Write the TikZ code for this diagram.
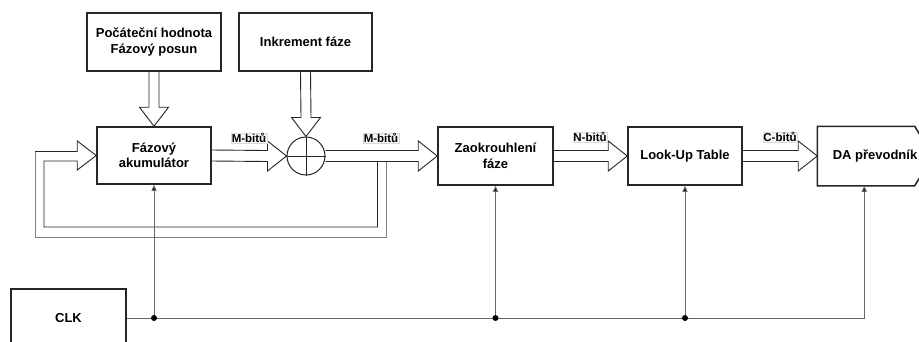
\documentclass[tikz,border=0pt]{standalone}
\usepackage{fontspec}
\setmainfont{Liberation Sans}
\usetikzlibrary{calc,arrows.meta}
\newcommand\harr[2]{%
  \draw[fatarr] ($(#1)+(0,-5.5)$) -- ($(#2)+(-19,-5.5)$) -- ($(#2)+(-19,-15)$) -- (#2)
    -- ($(#2)+(-19,15)$) -- ($(#2)+(-19,5.5)$) -- ($(#1)+(0,5.5)$);}
\newcommand\varr[2]{%
  \draw[fatarr] ($(#1)+(-5,0)$) -- ($(#2)+(-5,-19)$) -- ($(#2)+(-14.5,-19)$) -- (#2)
    -- ($(#2)+(14.5,-19)$) -- ($(#2)+(5,-19)$) -- ($(#1)+(5,0)$);}
\begin{document}
\begin{tikzpicture}[x=1pt,y=-1pt,
  blk/.style={draw=black!85,line width=1.5pt,align=center,inner sep=0pt,
    font=\fontsize{13}{15.5}\selectfont\bfseries},
  blkline/.style={draw=black!85,line width=1.5pt},
  fatarr/.style={draw=black!85,line width=0.9pt,line join=miter},
  fatgray/.style={draw=black!50,line width=1pt},
  clkline/.style={draw=black!60,line width=1pt},
  clkarr/.style={clkline,-{Triangle[length=6pt,width=5pt,fill=black]}},
  lbl/.style={draw=black!15,fill=black!3,inner sep=0.6pt,
    font=\fontsize{11.5}{13}\selectfont\bfseries}]
\clip (0,0) rectangle (919,341);
\fill[white] (0,0) rectangle (919,341);

% blocks
\node[blk,minimum width=134,minimum height=58] (init) at (154,42) {Počáteční hodnota\\Fázový posun};
\node[blk,minimum width=133,minimum height=58] (inc) at (305.5,42) {Inkrement fáze};
\node[blk,minimum width=114,minimum height=57] (acc) at (154,155.5) {Fázový\\akumulátor};
\node[draw=black!85,line width=1pt,circle,minimum size=38,inner sep=0pt] (sum) at (306,156) {};
\draw[black!85,line width=1pt] (sum.north) -- (sum.south) (sum.west) -- (sum.east);
\node[blk,minimum width=115,minimum height=58] (rnd) at (495.5,156) {Zaokrouhlení\\fáze};
\node[blk,minimum width=114,minimum height=58] (lut) at (685,156) {Look-Up Table};
\node[blk,draw=none,minimum width=114,minimum height=58] (da) at (875,156) {DA převodník};
\draw[blkline,line join=miter] (da.north west) -- ($(da.north east)+(-18,0)$) -- (da.east)
  -- ($(da.south east)+(-18,0)$) -- (da.south west) -- cycle;
\node[blk,minimum width=115,minimum height=58] (clk) at (68.5,318) {CLK};

% wide arrows
\varr{init.south}{acc.north}
\varr{inc.south}{sum.north}
\harr{acc.east}{sum.west}
\harr{sum.east}{rnd.west}
\harr{rnd.east}{lut.west}
\harr{lut.east}{da.west}

% feedback loop
\coordinate (fi) at ($(sum.east)+(52,5.5)$);
\coordinate (fo) at ($(sum.east)+(61,5.5)$);
\draw[fatarr] (fi) -- ++(0,65.5) -| (44,161) -- ($(acc.west)+(-19,5.5)$)
  -- ($(acc.west)+(-19,14.5)$) -- (acc.west) -- ($(acc.west)+(-19,-14.5)$)
  -- ($(acc.west)+(-19,-4)$) -- (35,151.5);
\draw[fatgray] (35,151.5) -- (35,237) -| (fo);

% labels
\node[lbl] (m1) at (249,138) {M-bitů};
\node[lbl] (m2) at (381,138) {M-bitů};
\node[lbl] (n1) at (590,137) {N-bitů};
\node[lbl] (c1) at (780,137) {C-bitů};

% clock
\coordinate (daclk) at ($(da.south west)+(47,0)$);
\coordinate (j1) at (acc.south |- clk.east);
\coordinate (j2) at (rnd.south |- clk.east);
\coordinate (j3) at (lut.south |- clk.east);
\draw[clkarr] (clk.east) -- (daclk |- clk.east) -- (daclk);
\draw[clkarr] (j1) -- (acc.south);
\draw[clkarr] (j2) -- (rnd.south);
\draw[clkarr] (j3) -- (lut.south);
\foreach \j in {j1,j2,j3} \fill (\j) circle (3);
\end{tikzpicture}
\end{document}
